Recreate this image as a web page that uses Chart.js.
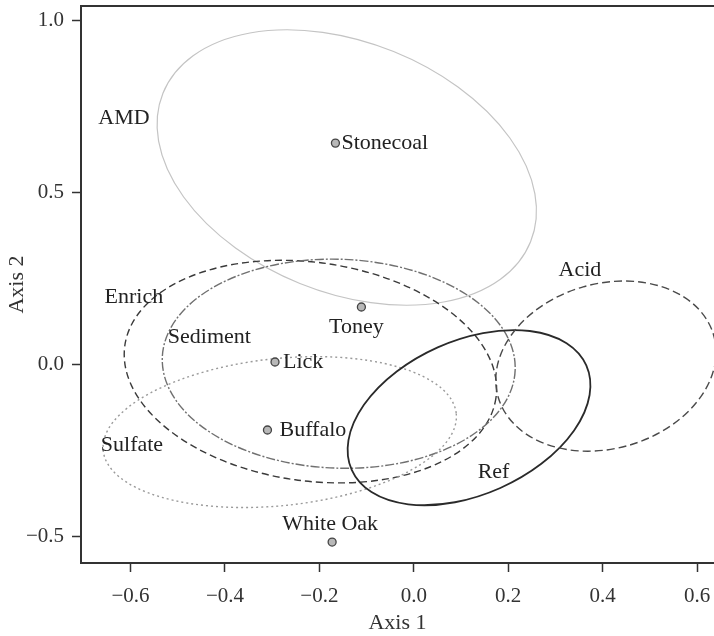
<!DOCTYPE html>
<html>
<head>
<meta charset="utf-8">
<script src="https://cdn.jsdelivr.net/npm/chart.js@4.4.0/dist/chart.umd.min.js"></script>
<style>
  html, body { margin: 0; padding: 0; background: #fff; }
  #container { width: 714px; height: 636px; }
</style>
</head>
<body>
<div id="container"><canvas id="myChart"></canvas></div>
<script>
// sites (points)
const siteNames = ['Stonecoal', 'Toney', 'Lick', 'Buffalo', 'White Oak'];
const siteX = [-0.166, -0.111, -0.294, -0.310, -0.173];
const siteY = [0.644, 0.167, 0.007, -0.191, -0.517];

// group ellipses: center, semi-axes (x units, y units), tilt in degrees
const groupNames = ['AMD', 'Enrich', 'Sediment', 'Sulfate', 'Ref', 'Acid'];
const groupCX = [-0.142, -0.219, -0.159, -0.284, 0.117, 0.407];
const groupCY = [0.573, -0.021, 0.002, -0.197, -0.155, -0.005];
const groupRX = [0.420, 0.397, 0.374, 0.376, 0.272, 0.2375];
const groupRY = [0.364, 0.318, 0.304, 0.214, 0.224, 0.240];
const groupTilt = [22, 8, 2, -6, -24, -16];
// where the group names sit
const groupLabelX = [-0.614, -0.593, -0.433, -0.597, 0.169, 0.352];
const groupLabelY = [0.717, 0.196, 0.080, -0.235, -0.313, 0.275];

const xTicks = [-0.6, -0.4, -0.2, 0.0, 0.2, 0.4, 0.6];
const yTicks = [-0.5, 0.0, 0.5, 1.0];

const serif = '"Liberation Serif", "DejaVu Serif", serif';

const groupStyle = {
    AMD:      { color: '#c4c4c4', width: 1.2, dash: [] },
    Enrich:   { color: '#3a3a3a', width: 1.4, dash: [7, 4] },
    Sediment: { color: '#707070', width: 1.4, dash: [9, 2, 2, 2] },
    Sulfate:  { color: '#9a9a9a', width: 1.4, dash: [2, 3] },
    Ref:      { color: '#2a2a2a', width: 1.8, dash: [] },
    Acid:     { color: '#4a4a4a', width: 1.4, dash: [8, 4] }
};

// label placement relative to each site marker
const siteLabelPos = {
    'Stonecoal': { align: 'left', dx: 6, dy: 0 },
    'Toney':     { align: 'center', dx: -5, dy: 20 },
    'Lick':      { align: 'left', dx: 8, dy: 0 },
    'Buffalo':   { align: 'left', dx: 12, dy: 0 },
    'White Oak': { align: 'center', dx: -2, dy: -18 }
};

const fmt = v => (v < 0 ? '\u2212' : '') + Math.abs(v).toFixed(1);

const ellipsePlugin = {
    id: 'ellipses',
    beforeDatasetsDraw(chart) {
        const {ctx, chartArea, scales: {x, y}} = chart;
        const pxX = x.getPixelForValue(1) - x.getPixelForValue(0);
        const pxY = y.getPixelForValue(0) - y.getPixelForValue(1);
        ctx.save();
        ctx.beginPath();
        ctx.rect(chartArea.left, chartArea.top, chart.width - chartArea.left, chartArea.bottom - chartArea.top);
        ctx.clip();
        groupNames.forEach((g, i) => {
            const st = groupStyle[g];
            ctx.beginPath();
            ctx.setLineDash(st.dash);
            ctx.strokeStyle = st.color;
            ctx.lineWidth = st.width;
            ctx.ellipse(x.getPixelForValue(groupCX[i]), y.getPixelForValue(groupCY[i]),
                groupRX[i] * pxX, groupRY[i] * pxY, groupTilt[i] * Math.PI / 180, 0, Math.PI * 2);
            ctx.stroke();
        });
        ctx.restore();
    },
    afterDraw(chart) {
        const {ctx, chartArea, scales: {x, y}} = chart;
        ctx.save();
        // top frame line
        ctx.strokeStyle = '#333';
        ctx.lineWidth = 2;
        ctx.beginPath();
        ctx.moveTo(chartArea.left, chartArea.top);
        ctx.lineTo(chart.width, chartArea.top);
        ctx.stroke();

        ctx.fillStyle = '#222';
        ctx.font = '22px ' + serif;
        ctx.textBaseline = 'middle';
        ctx.textAlign = 'center';
        groupNames.forEach((g, i) => {
            ctx.fillText(g, x.getPixelForValue(groupLabelX[i]), y.getPixelForValue(groupLabelY[i]));
        });
        siteNames.forEach((s, i) => {
            const p = siteLabelPos[s];
            ctx.textAlign = p.align;
            ctx.fillText(s, x.getPixelForValue(siteX[i]) + p.dx, y.getPixelForValue(siteY[i]) + p.dy);
        });
        ctx.restore();
    }
};

new Chart(document.getElementById('myChart').getContext('2d'), {
    type: 'scatter',
    data: {
        datasets: [{
            label: 'Sites',
            data: siteX.map((v, i) => ({x: v, y: siteY[i]})),
            pointRadius: 4,
            pointBackgroundColor: '#b8b8b8',
            pointBorderColor: '#444',
            pointBorderWidth: 1.3
        }]
    },
    options: {
        responsive: true,
        maintainAspectRatio: false,
        animation: false,
        layout: { autoPadding: false, padding: { top: 6, right: 0, left: 0, bottom: 0 } },
        plugins: { legend: { display: false }, tooltip: { enabled: false } },
        scales: {
            x: {
                type: 'linear',
                min: -0.705,
                max: 0.636,
                afterBuildTicks: s => { s.ticks = xTicks.map(v => ({value: v})); },
                afterFit: s => { s.height = 73; s.paddingLeft = 0; s.paddingRight = 0; },
                grid: { display: true, drawOnChartArea: false, drawTicks: true, tickLength: 9, tickColor: '#333', tickWidth: 1.5 },
                border: { display: true, color: '#333', width: 2 },
                ticks: { color: '#333', padding: 12, font: { family: serif, size: 21 }, callback: v => fmt(v), maxRotation: 0 },
                title: { display: true, text: 'Axis 1', color: '#333', font: { family: serif, size: 22 }, padding: { top: 0, bottom: 0 } }
            },
            y: {
                type: 'linear',
                min: -0.578,
                max: 1.043,
                afterBuildTicks: s => { s.ticks = yTicks.map(v => ({value: v})); },
                afterFit: s => { s.width = 81; s.paddingTop = 0; s.paddingBottom = 0; },
                grid: { display: true, drawOnChartArea: false, drawTicks: true, tickLength: 9, tickColor: '#333', tickWidth: 1.5 },
                border: { display: true, color: '#333', width: 2 },
                ticks: { color: '#333', padding: 8, font: { family: serif, size: 21 }, callback: v => fmt(v) },
                title: { display: true, text: 'Axis 2', color: '#333', font: { family: serif, size: 22 }, padding: { top: 4, bottom: 0 } }
            }
        }
    },
    plugins: [ellipsePlugin]
});
</script>
</body>
</html>
